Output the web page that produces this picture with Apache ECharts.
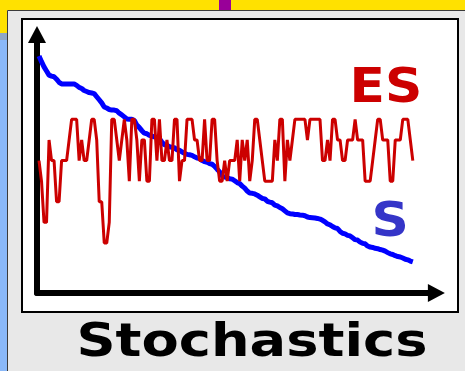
<!DOCTYPE html>
<html><head><meta charset="utf-8">
<script src="https://cdn.jsdelivr.net/npm/echarts@6/dist/echarts.min.js"></script>
<style>html,body{margin:0;padding:0;background:#e8e8e8;overflow:hidden}#c{width:465px;height:371px}</style>
</head><body><div id="c"></div>
<script>
// ES series: discrete levels 0..6
const esValues = [4,3,1,1,5,4,4,2,2,4, 4,4,5,6,6,6,4,5,4,4, 5,6,6,5,2,2,0,0,1,6,
  6,5,4,5,6,5,3,6,6,5, 3,5,5,3,3,6,6,4,6,4, 4,5,4,4,6,6,3,4,4,6,
  6,6,5,5,4,4,6,4,4,6, 6,4,3,3,4,3,4,4,4,5, 3,5,4,5,3,4,6,6,5,4,
  3,3,3,3,5,4,6,6,3,5, 4,5,6,6,6,6,6,5,6,6, 6,6,6,4,4,5,4,6,6,5,
  5,4,4,5,5,5,6,5,5,5, 3,3,3,4,5,6,6,5,5,5, 3,3,5,5,5,6,6,6,5,4];
// S series: decreasing, stair-like
const sValues = [9.08,8.80,8.55,8.35,8.15,8.10,8.07,7.95,7.80,7.72,
  7.72,7.72,7.72,7.72,7.72,7.65,7.55,7.50,7.40,7.35,
  7.30,7.28,7.25,7.10,6.95,6.80,6.60,6.55,6.48,6.45,
  6.45,6.42,6.30,6.22,6.12,6.02,6.01,6.01,5.95,5.72,
  5.60,5.45,5.33,5.30,5.22,5.19,5.15,5.12,5.05,4.90,
  4.76,4.74,4.67,4.64,4.62,4.52,4.50,4.42,4.36,4.30,
  4.28,4.25,4.18,4.12,4.10,4.00,3.95,3.92,3.85,3.82,
  3.72,3.58,3.45,3.25,3.20,3.18,3.12,3.10,3.02,2.93,
  2.88,2.76,2.66,2.52,2.42,2.41,2.38,2.32,2.24,2.16,
  2.14,2.02,1.98,1.95,1.84,1.80,1.72,1.66,1.56,1.46,
  1.42,1.41,1.38,1.38,1.36,1.35,1.32,1.26,1.23,1.22,
  1.21,1.19,1.16,1.10,1.02,0.92,0.88,0.80,0.73,0.70,
  0.56,0.47,0.44,0.37,0.34,0.25,0.16,0.14,0.04,-0.02,
  -0.04,-0.15,-0.20,-0.22,-0.26,-0.28,-0.32,-0.35,-0.40,-0.47,
  -0.53,-0.56,-0.62,-0.66,-0.68,-0.73,-0.79,-0.82,-0.88,-0.92];
const titleText = 'Stochastics';
const esLabel = 'ES';
const sLabel = 'S';

const chart = echarts.init(document.getElementById('c'), null, {renderer: 'canvas'});
const axisCommon = {
  axisTick: {show: false}, axisLabel: {show: false}, splitLine: {show: false}
};
const option = {
  animation: false,
  backgroundColor: '#e8e8e8',
  grid: {left: 37, top: 34.5, width: 399.4, height: 258.5, containLabel: false},
  xAxis: Object.assign({
    type: 'value', min: -0.8, max: 158.4,
    axisLine: {show: true, onZero: false, lineStyle: {color: '#000', width: 6},
      symbol: ['none', 'triangle'], symbolSize: [18, 17]}
  }, axisCommon),
  yAxis: Object.assign({
    type: 'value', min: -2.43, max: 10.12,
    axisLine: {show: true, onZero: false, lineStyle: {color: '#000', width: 6},
      symbol: ['none', 'triangle'], symbolSize: [18, 17]}
  }, axisCommon),
  graphic: {elements: [
    {type: 'rect', z: -10, shape: {x: 7.5, y: 10.5, width: 470, height: 370}, style: {fill: '#e8e8e8', stroke: '#3a3a3a', lineWidth: 1}},
    {type: 'rect', z: -10, shape: {x: 0, y: 0, width: 465, height: 10}, style: {fill: '#ffe100'}},
    {type: 'rect', z: -10, shape: {x: 0, y: 0, width: 7, height: 33}, style: {fill: '#ffe100'}},
    {type: 'rect', z: -10, shape: {x: 219, y: 0, width: 12, height: 10}, style: {fill: '#990099'}},
    {type: 'rect', z: -10, shape: {x: 0, y: 33, width: 7, height: 7}, style: {fill: '#8fa6c6'}},
    {type: 'rect', z: -10, shape: {x: 0, y: 40, width: 7, height: 331}, style: {fill: '#8ab8f8'}},
    {type: 'rect', z: -9, shape: {x: 22, y: 19, width: 436, height: 293}, style: {fill: '#ffffff', stroke: '#000', lineWidth: 2}},
    {type: 'text', z: 10, x: 349.5, y: 65.5, scaleX: 1.08, style: {text: esLabel, font: 'bold 48px "DejaVu Sans"', fill: '#cc0000', align: 'left', verticalAlign: 'top'}},
    {type: 'text', z: 10, x: 371.5, y: 199.5, scaleX: 1.08, style: {text: sLabel, font: 'bold 48px "DejaVu Sans"', fill: '#3535c8', align: 'left', verticalAlign: 'top'}},
    {type: 'text', z: 10, x: 252, y: 321, scaleX: 1.18, style: {text: titleText, font: 'bold 46px "DejaVu Sans"', fill: '#000', align: 'center', verticalAlign: 'top'}}
  ]},
  series: [
    {type: 'line', name: 'S', data: sValues.map((v, i) => [i, v]), showSymbol: false, symbol: 'none',
      lineStyle: {color: '#0000ff', width: 5}, z: 3},
    {type: 'line', name: 'ES', data: esValues.map((v, i) => [i, v]), showSymbol: false, symbol: 'none',
      lineStyle: {color: '#cc0000', width: 3}, z: 4}
  ]
};
chart.setOption(option);
</script></body></html>
